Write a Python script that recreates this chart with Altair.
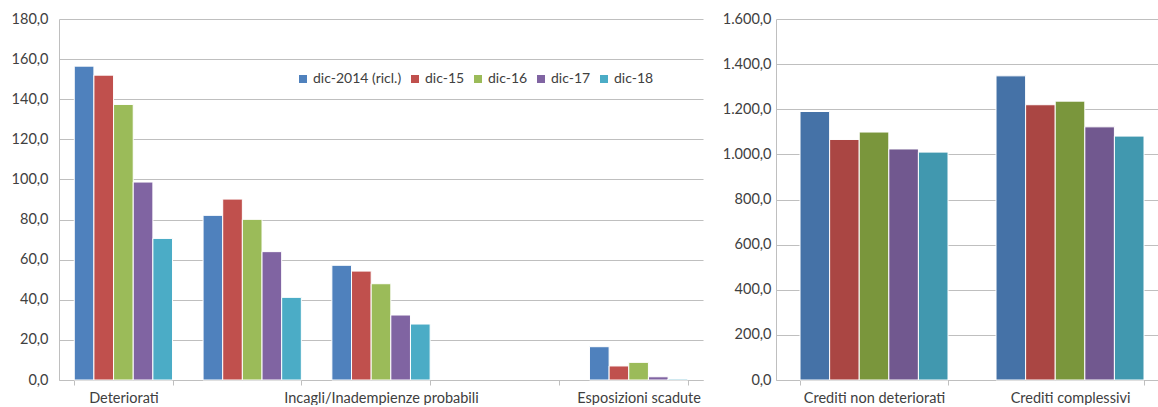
import altair as alt
import pandas as pd

# Periods (series)
periods = ["dic-2014 (ricl.)", "dic-15", "dic-16", "dic-17", "dic-18"]

# Left panel: impaired loans by category
left_categories = [
    "Deteriorati",
    "Sofferenze",
    "Incagli/Inadempienze probabili",
    "Esposizioni ristrutturate",
    "Esposizioni scadute",
]
deteriorati = [156.5, 152.0, 137.4, 98.7, 70.6]
sofferenze = [82.1, 90.2, 80.1, 64.0, 41.2]
incagli = [57.2, 54.3, 48.0, 32.4, 27.9]
scadute = [16.6, 7.0, 8.8, 1.6, 0.5]

# Right panel: performing and total loans
right_categories = ["Crediti non deteriorati", "Crediti complessivi"]
non_deteriorati = [1190.0, 1066.0, 1099.0, 1024.0, 1010.0]
complessivi = [1348.0, 1220.0, 1236.0, 1122.0, 1081.0]

left_colors = ["#4F81BD", "#C0504D", "#9BBB59", "#8064A2", "#4BACC6"]
right_colors = ["#4572A7", "#AA4643", "#7A963C", "#71588F", "#4198AF"]

# Alternate category labels are skipped on the crowded left axis
hidden_labels = ["Sofferenze", "Esposizioni ristrutturate"]

left_rows = []
for cat, vals in [
    ("Deteriorati", deteriorati),
    ("Sofferenze", sofferenze),
    ("Incagli/Inadempienze probabili", incagli),
    ("Esposizioni scadute", scadute),
]:
    for p, v in zip(periods, vals):
        left_rows.append({"categoria": cat, "periodo": p, "valore": v})
left_df = pd.DataFrame(left_rows)

right_rows = []
for cat, vals in [
    ("Crediti non deteriorati", non_deteriorati),
    ("Crediti complessivi", complessivi),
]:
    for p, v in zip(periods, vals):
        right_rows.append({"categoria": cat, "periodo": p, "valore": v})
right_df = pd.DataFrame(right_rows)

FONT = "Lato"
FS = 14.5
TEXT = "#404040"
GRID = "#BFBFBF"

# Italian number format: thousands ".", decimals ","
ita = ("replace(replace(replace(format(datum.value, ',.1f'), ',', '#'), "
       "'.', ','), '#', '.')")

hide_expr = " || ".join(f"datum.label == '{h}'" for h in hidden_labels)
left_label_expr = f"({hide_expr}) ? '' : datum.label"


def x_axis(label_expr=None):
    kw = dict(
        title=None, labelAngle=0, tickBand="extent", ticks=True, tickSize=5,
        tickColor=GRID, domainColor=GRID, labelPadding=6, labelFontSize=FS,
        labelFont=FONT, labelColor=TEXT, grid=False, labelLimit=400,
    )
    if label_expr:
        kw["labelExpr"] = label_expr
    return alt.Axis(**kw)


def y_axis(values, extent, pad):
    return alt.Axis(
        title=None, values=values, labelExpr=ita, ticks=False, grid=True,
        gridColor=GRID, domainColor=GRID, labelPadding=pad, labelFontSize=FS,
        labelFont=FONT, labelColor=TEXT, minExtent=extent, maxExtent=extent,
    )


left = alt.Chart(left_df).mark_bar(stroke="white", strokeWidth=1).encode(
    x=alt.X("categoria:N", sort=left_categories,
            scale=alt.Scale(domain=left_categories, paddingInner=0.237,
                            paddingOuter=0.1185),
            axis=x_axis(left_label_expr)),
    xOffset=alt.XOffset("periodo:N", sort=periods,
                        scale=alt.Scale(domain=periods, paddingInner=0,
                                        paddingOuter=0)),
    y=alt.Y("valore:Q", scale=alt.Scale(domain=[0, 180], nice=False),
            axis=y_axis(list(range(0, 181, 20)), 54, 11)),
    color=alt.Color("periodo:N",
                    scale=alt.Scale(domain=periods, range=left_colors),
                    legend=alt.Legend(
                        title=None, orient="none", legendX=237, legendY=53,
                        direction="horizontal", symbolType="square",
                        symbolSize=64, symbolStrokeWidth=0, labelFontSize=14,
                        labelFont=FONT, labelColor=TEXT, columnPadding=6,
                        labelOffset=3, padding=0, labelLimit=300)),
).properties(width=644, height=361)

right = alt.Chart(right_df).mark_bar(stroke="white", strokeWidth=1).encode(
    x=alt.X("categoria:N", sort=right_categories,
            scale=alt.Scale(domain=right_categories, paddingInner=0.245,
                            paddingOuter=0.097, align=0.632),
            axis=x_axis()),
    xOffset=alt.XOffset("periodo:N", sort=periods,
                        scale=alt.Scale(domain=periods, paddingInner=0,
                                        paddingOuter=0)),
    y=alt.Y("valore:Q", scale=alt.Scale(domain=[0, 1600], nice=False),
            axis=y_axis(list(range(0, 1601, 200)), 60, 5)),
    color=alt.Color("periodo:N",
                    scale=alt.Scale(domain=periods, range=right_colors),
                    legend=None),
).properties(width=382, height=361)

chart = (
    alt.hconcat(left, right, spacing=13)
    .resolve_scale(color="independent", y="independent", x="independent",
                   xOffset="independent")
    .configure_view(stroke=None)
    .properties(padding={"left": 5, "top": 11, "right": 0, "bottom": 0},
                background="white")
)

chart.save("out.html", embed_options={"renderer": "svg", "actions": False})
